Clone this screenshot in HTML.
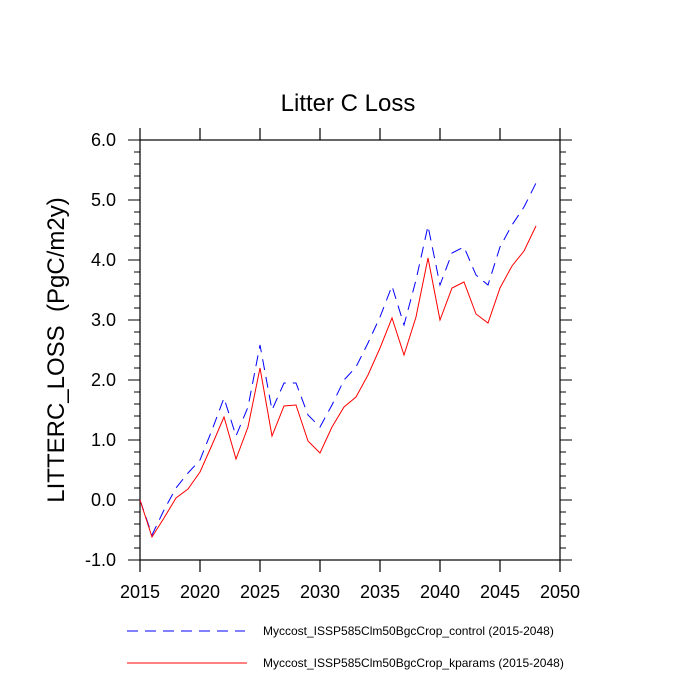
<!DOCTYPE html>
<html><head><style>body{margin:0;background:#fff}svg{display:block}text{font-family:"Liberation Sans",sans-serif}</style></head><body>
<svg width="700" height="700" xmlns="http://www.w3.org/2000/svg">
<rect width="700" height="700" fill="#fff"/>
<text x="348" y="111" font-size="24" text-anchor="middle">Litter C Loss</text>
<text transform="translate(64,350) rotate(-90)" font-size="24" text-anchor="middle" style="white-space:pre" xml:space="preserve">LITTERC_LOSS  (PgC/m2y)</text>
<g stroke="#000" stroke-width="1.2" fill="none">
<rect x="140" y="140" width="420" height="420"/>
<path d="M140 560v12M200 560v12M260 560v12M320 560v12M380 560v12M440 560v12M500 560v12M560 560v12M140 140v-12M200 140v-12M260 140v-12M320 140v-12M380 140v-12M440 140v-12M500 140v-12M560 140v-12"/>
</g>
<g font-size="18" text-anchor="middle">
<text x="140" y="598">2015</text><text x="200" y="598">2020</text><text x="260" y="598">2025</text><text x="320" y="598">2030</text><text x="380" y="598">2035</text><text x="440" y="598">2040</text><text x="500" y="598">2045</text><text x="560" y="598">2050</text>
</g>
<g font-size="18" text-anchor="end">
<text x="116" y="146">6.0</text><text x="116" y="206">5.0</text><text x="116" y="266">4.0</text><text x="116" y="326">3.0</text><text x="116" y="386">2.0</text><text x="116" y="446">1.0</text><text x="116" y="506">0.0</text><text x="116" y="566">-1.0</text>
</g>
<g stroke="#000" stroke-width="1">
<path d="M128 140h12M128 200h12M128 260h12M128 320h12M128 380h12M128 440h12M128 500h12M128 560h12M560 140h12M560 200h12M560 260h12M560 320h12M560 380h12M560 440h12M560 500h12M560 560h12"/>
<path d="M134 152h6M134 164h6M134 176h6M134 188h6M134 212h6M134 224h6M134 236h6M134 248h6M134 272h6M134 284h6M134 296h6M134 308h6M134 332h6M134 344h6M134 356h6M134 368h6M134 392h6M134 404h6M134 416h6M134 428h6M134 452h6M134 464h6M134 476h6M134 488h6M134 512h6M134 524h6M134 536h6M134 548h6"/>
<path d="M560 152h6M560 164h6M560 176h6M560 188h6M560 212h6M560 224h6M560 236h6M560 248h6M560 272h6M560 284h6M560 296h6M560 308h6M560 332h6M560 344h6M560 356h6M560 368h6M560 392h6M560 404h6M560 416h6M560 428h6M560 452h6M560 464h6M560 476h6M560 488h6M560 512h6M560 524h6M560 536h6M560 548h6"/>
</g>
<polyline fill="none" stroke="#00f" stroke-width="1" stroke-dasharray="11,7" points="140,500 152,535 164,510 176,488 188,473 200,460 212,430 224,398 236,436 248,407 260,345 272,410 284,383 296,383 308,415 320,427 332,405 344,380 356,367 368,343 380,317 392,286 404,325 416,280 428,226 440,285 452,253 464,247 476,275 488,285 500,247 512,225 524,207 536,183"/>
<polyline fill="none" stroke="#f00" stroke-width="1" points="140,500 152,537 164,518 176,498 188,489 200,472 212,445 224,417 236,459 248,427 260,368 272,436 284,406 296,405 308,441 320,453 332,427 344,407 356,397 368,375 380,348 392,318 404,355 416,317 428,258 440,320 452,288 464,282 476,314 488,323 500,288 512,266 524,251 536,226"/>
<line x1="127" y1="631" x2="245" y2="631" stroke="#00f" stroke-width="1" stroke-dasharray="11,7"/>
<line x1="127" y1="663" x2="247" y2="663" stroke="#f00" stroke-width="1"/>
<text x="263" y="635" font-size="12">Myccost_ISSP585Clm50BgcCrop_control (2015-2048)</text>
<text x="263" y="667" font-size="12">Myccost_ISSP585Clm50BgcCrop_kparams (2015-2048)</text>
</svg>
</body></html>
